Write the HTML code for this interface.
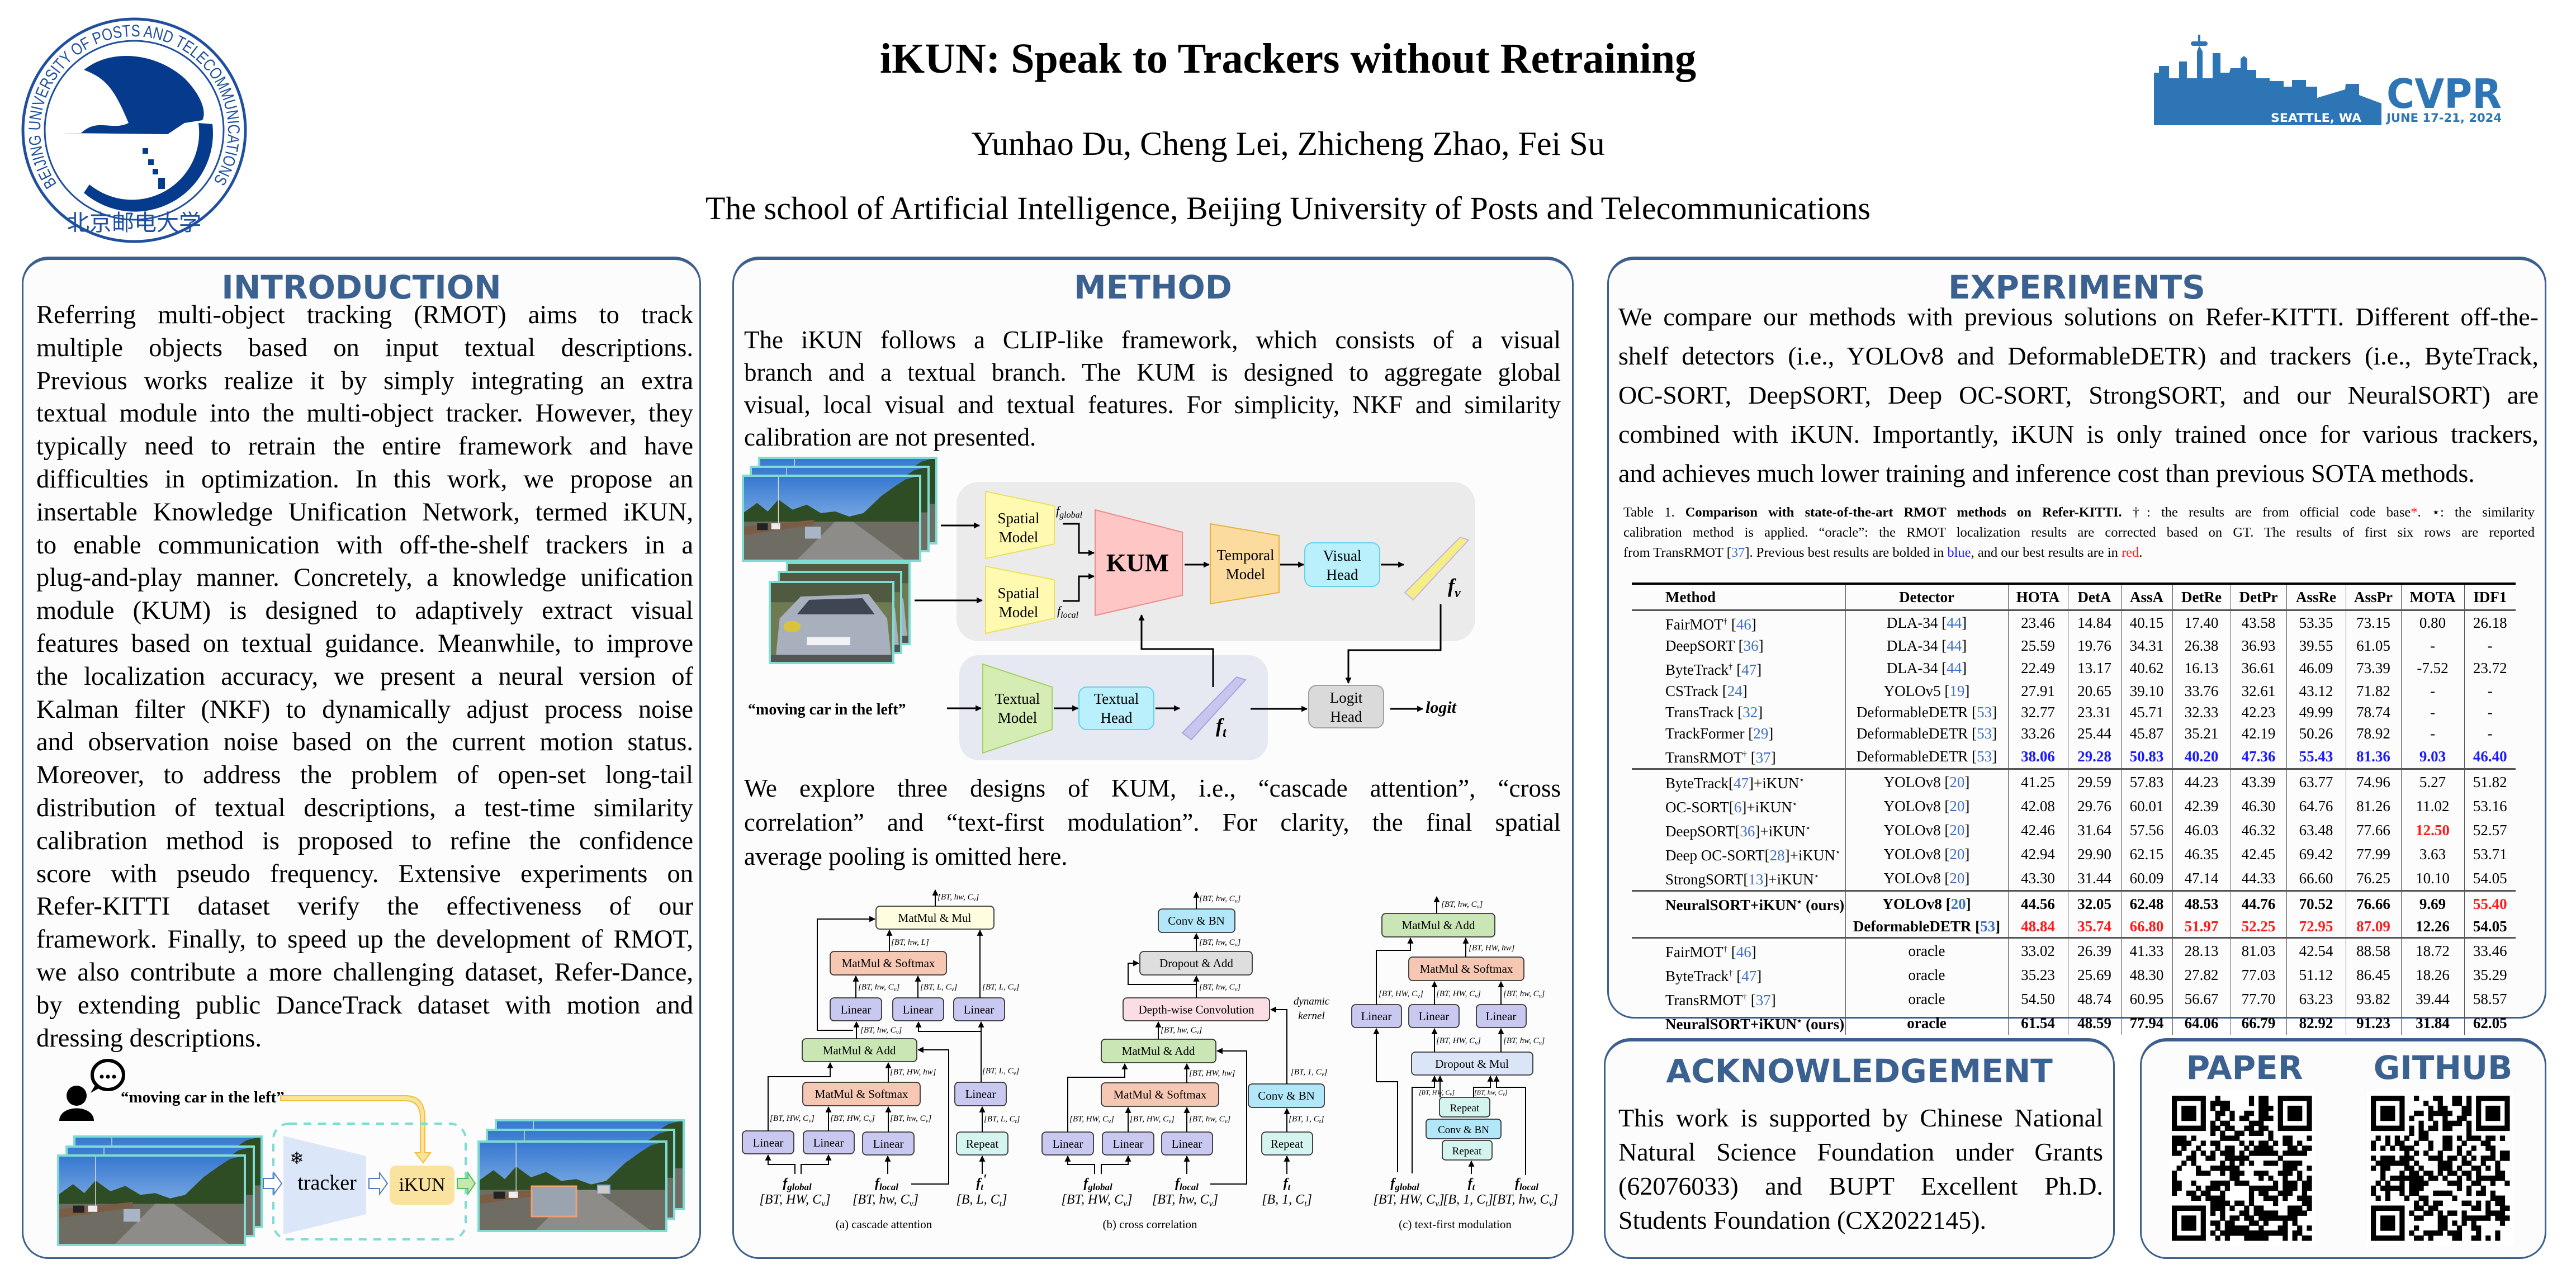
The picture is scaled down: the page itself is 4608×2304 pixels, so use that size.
<!DOCTYPE html>
<html><head><meta charset="utf-8">
<style>
*{margin:0;padding:0;box-sizing:border-box}
body{width:4608px;height:2304px;background:#fff;position:relative;overflow:hidden;font-family:"Liberation Serif",serif;color:#000}
.abs{position:absolute}
.panel{position:absolute;border:3px solid #3c5f8d;border-top-width:6px;border-radius:48px;background:#fcfcfc}
.hd{position:absolute;font-family:"DejaVu Sans","Liberation Sans",sans-serif;font-weight:bold;color:#3a6190;font-size:58px;text-align:center;line-height:64px}
.txt div{white-space:nowrap;text-align:justify;text-align-last:justify}
.txt div.l{text-align-last:left}
table.t{position:absolute;left:2919px;top:1042px;width:1581px;border-collapse:collapse;table-layout:fixed;font-size:27px;font-family:"Liberation Serif",serif}
table.t td{text-align:center;height:38.2px;padding:0;border-left:1.5px solid #555;white-space:nowrap;line-height:38px}
table.t td:first-child{border-left:none;text-align:left;padding-left:60px}
table.t tr.h td{height:47px;font-weight:bold;border-bottom:3px solid #555}
table.t tr.s td{border-top:3px solid #555}
table.t{border-top:4px solid #000}
.r{color:#3f6fc4}
.B{color:#1a1aff;font-weight:bold}
.R{color:#ff1a1a}
b .r{font-weight:bold}
</style></head><body>

<!-- Title -->
<div class="abs" style="left:0;top:62px;width:4608px;text-align:center;font-size:76px;font-weight:bold;line-height:86px">iKUN: Speak to Trackers without Retraining</div>
<div class="abs" style="left:0;top:222px;width:4608px;text-align:center;font-size:60px;line-height:70px">Yunhao Du, Cheng Lei, Zhicheng Zhao, Fei Su</div>
<div class="abs" style="left:0;top:338px;width:4608px;text-align:center;font-size:58px;line-height:70px">The school of Artificial Intelligence, Beijing University of Posts and Telecommunications</div>

<!-- Panels -->
<div class="panel" style="left:39px;top:459px;width:1215px;height:1793px"></div>
<div class="panel" style="left:1310px;top:459px;width:1505px;height:1793px"></div>
<div class="panel" style="left:2875px;top:459px;width:1680px;height:1363px"></div>
<div class="panel" style="left:2869px;top:1857px;width:914px;height:395px"></div>
<div class="panel" style="left:3828px;top:1857px;width:727px;height:395px"></div>

<div class="hd" style="left:39px;top:482px;width:1215px">INTRODUCTION</div>
<div class="hd" style="left:1310px;top:482px;width:1505px">METHOD</div>
<div class="hd" style="left:2875px;top:482px;width:1680px">EXPERIMENTS</div>
<div class="hd" style="left:2869px;top:1884px;width:914px">ACKNOWLEDGEMENT</div>
<div class="hd" style="left:3840px;top:1878px;width:350px">PAPER</div>
<div class="hd" style="left:4195px;top:1878px;width:350px">GITHUB</div>

<!-- Intro text -->
<div class="abs txt" style="left:65px;top:535px;width:1175px;font-size:46.5px;line-height:58.8px">
<div>Referring multi-object tracking (RMOT) aims to track</div>
<div>multiple objects based on input textual descriptions.</div>
<div>Previous works realize it by simply integrating an extra</div>
<div>textual module into the multi-object tracker. However, they</div>
<div>typically need to retrain the entire framework and have</div>
<div>difficulties in optimization. In this work, we propose an</div>
<div>insertable Knowledge Unification Network, termed iKUN,</div>
<div>to enable communication with off-the-shelf trackers in a</div>
<div>plug-and-play manner. Concretely, a knowledge unification</div>
<div>module (KUM) is designed to adaptively extract visual</div>
<div>features based on textual guidance. Meanwhile, to improve</div>
<div>the localization accuracy, we present a neural version of</div>
<div>Kalman filter (NKF) to dynamically adjust process noise</div>
<div>and observation noise based on the current motion status.</div>
<div>Moreover, to address the problem of open-set long-tail</div>
<div>distribution of textual descriptions, a test-time similarity</div>
<div>calibration method is proposed to refine the confidence</div>
<div>score with pseudo frequency. Extensive experiments on</div>
<div>Refer-KITTI dataset verify the effectiveness of our</div>
<div>framework. Finally, to speed up the development of RMOT,</div>
<div>we also contribute a more challenging dataset, Refer-Dance,</div>
<div>by extending public DanceTrack dataset with motion and</div>
<div class="l">dressing descriptions.</div>
</div>

<!-- Method text -->
<div class="abs txt" style="left:1331px;top:579px;width:1461px;font-size:45px;line-height:58px">
<div>The iKUN follows a CLIP-like framework, which consists of a visual</div>
<div>branch and a textual branch. The KUM is designed to aggregate global</div>
<div>visual, local visual and textual features. For simplicity, NKF and similarity</div>
<div class="l">calibration are not presented.</div>
</div>
<div class="abs txt" style="left:1331px;top:1380px;width:1461px;font-size:45px;line-height:61px">
<div>We explore three designs of KUM, i.e., “cascade attention”, “cross</div>
<div>correlation” and “text-first modulation”. For clarity, the final spatial</div>
<div class="l">average pooling is omitted here.</div>
</div>

<!-- Experiments text -->
<div class="abs txt" style="left:2895px;top:532px;width:1646px;font-size:46px;line-height:70px">
<div>We compare our methods with previous solutions on Refer-KITTI. Different off-the-</div>
<div>shelf detectors (i.e., YOLOv8 and DeformableDETR) and trackers (i.e., ByteTrack,</div>
<div>OC-SORT, DeepSORT, Deep OC-SORT, StrongSORT, and our NeuralSORT) are</div>
<div>combined with iKUN. Importantly, iKUN is only trained once for various trackers,</div>
<div class="l">and achieves much lower training and inference cost than previous SOTA methods.</div>
</div>
<div class="abs txt" style="left:2904px;top:899px;width:1630px;font-size:24.5px;line-height:36px">
<div>Table 1. <b>Comparison with state-of-the-art RMOT methods on Refer-KITTI.</b> †: the results are from official code base<span class="R">*</span>. ⋆: the similarity</div>
<div>calibration method is applied. “oracle”: the RMOT localization results are corrected based on GT. The results of first six rows are reported</div>
<div class="l">from TransRMOT [<span class="r">37</span>]. Previous best results are bolded in <span style="color:#1a1aff">blue</span>, and our best results are in <span class="R">red</span>.</div>
</div>

<table class="t">
<colgroup><col style="width:382px"><col style="width:291px"><col style="width:107px"><col style="width:95px"><col style="width:92px"><col style="width:104px"><col style="width:100px"><col style="width:106px"><col style="width:99px"><col style="width:113px"><col style="width:92px"></colgroup>
<tr class="h"><td>Method</td><td>Detector</td><td>HOTA</td><td>DetA</td><td>AssA</td><td>DetRe</td><td>DetPr</td><td>AssRe</td><td>AssPr</td><td>MOTA</td><td>IDF1</td></tr>
<tr><td>FairMOT<sup style="font-size:15px">†</sup> [<span class="r">46</span>]</td><td>DLA-34 [<span class="r">44</span>]</td><td>23.46</td><td>14.84</td><td>40.15</td><td>17.40</td><td>43.58</td><td>53.35</td><td>73.15</td><td>0.80</td><td>26.18</td></tr>
<tr><td>DeepSORT [<span class="r">36</span>]</td><td>DLA-34 [<span class="r">44</span>]</td><td>25.59</td><td>19.76</td><td>34.31</td><td>26.38</td><td>36.93</td><td>39.55</td><td>61.05</td><td>-</td><td>-</td></tr>
<tr><td>ByteTrack<sup style="font-size:15px">†</sup> [<span class="r">47</span>]</td><td>DLA-34 [<span class="r">44</span>]</td><td>22.49</td><td>13.17</td><td>40.62</td><td>16.13</td><td>36.61</td><td>46.09</td><td>73.39</td><td>-7.52</td><td>23.72</td></tr>
<tr><td>CSTrack [<span class="r">24</span>]</td><td>YOLOv5 [<span class="r">19</span>]</td><td>27.91</td><td>20.65</td><td>39.10</td><td>33.76</td><td>32.61</td><td>43.12</td><td>71.82</td><td>-</td><td>-</td></tr>
<tr><td>TransTrack [<span class="r">32</span>]</td><td>DeformableDETR [<span class="r">53</span>]</td><td>32.77</td><td>23.31</td><td>45.71</td><td>32.33</td><td>42.23</td><td>49.99</td><td>78.74</td><td>-</td><td>-</td></tr>
<tr><td>TrackFormer [<span class="r">29</span>]</td><td>DeformableDETR [<span class="r">53</span>]</td><td>33.26</td><td>25.44</td><td>45.87</td><td>35.21</td><td>42.19</td><td>50.26</td><td>78.92</td><td>-</td><td>-</td></tr>
<tr><td>TransRMOT<sup style="font-size:15px">†</sup> [<span class="r">37</span>]</td><td>DeformableDETR [<span class="r">53</span>]</td><td class="B">38.06</td><td class="B">29.28</td><td class="B">50.83</td><td class="B">40.20</td><td class="B">47.36</td><td class="B">55.43</td><td class="B">81.36</td><td class="B">9.03</td><td class="B">46.40</td></tr>
<tr class="s"><td>ByteTrack[<span class="r">47</span>]+iKUN<sup style="font-size:15px">⋆</sup></td><td>YOLOv8 [<span class="r">20</span>]</td><td>41.25</td><td>29.59</td><td>57.83</td><td>44.23</td><td>43.39</td><td>63.77</td><td>74.96</td><td>5.27</td><td>51.82</td></tr>
<tr><td>OC-SORT[<span class="r">6</span>]+iKUN<sup style="font-size:15px">⋆</sup></td><td>YOLOv8 [<span class="r">20</span>]</td><td>42.08</td><td>29.76</td><td>60.01</td><td>42.39</td><td>46.30</td><td>64.76</td><td>81.26</td><td>11.02</td><td>53.16</td></tr>
<tr><td>DeepSORT[<span class="r">36</span>]+iKUN<sup style="font-size:15px">⋆</sup></td><td>YOLOv8 [<span class="r">20</span>]</td><td>42.46</td><td>31.64</td><td>57.56</td><td>46.03</td><td>46.32</td><td>63.48</td><td>77.66</td><td class="R"><b>12.50</b></td><td>52.57</td></tr>
<tr><td>Deep OC-SORT[<span class="r">28</span>]+iKUN<sup style="font-size:15px">⋆</sup></td><td>YOLOv8 [<span class="r">20</span>]</td><td>42.94</td><td>29.90</td><td>62.15</td><td>46.35</td><td>42.45</td><td>69.42</td><td>77.99</td><td>3.63</td><td>53.71</td></tr>
<tr><td>StrongSORT[<span class="r">13</span>]+iKUN<sup style="font-size:15px">⋆</sup></td><td>YOLOv8 [<span class="r">20</span>]</td><td>43.30</td><td>31.44</td><td>60.09</td><td>47.14</td><td>44.33</td><td>66.60</td><td>76.25</td><td>10.10</td><td>54.05</td></tr>
<tr class="s" style="font-weight:bold"><td>NeuralSORT+iKUN<sup style="font-size:15px">⋆</sup> (ours)</td><td>YOLOv8 [<span class="r">20</span>]</td><td>44.56</td><td>32.05</td><td>62.48</td><td>48.53</td><td>44.76</td><td>70.52</td><td>76.66</td><td>9.69</td><td class="R">55.40</td></tr>
<tr style="font-weight:bold"><td></td><td>DeformableDETR [<span class="r">53</span>]</td><td class="R">48.84</td><td class="R">35.74</td><td class="R">66.80</td><td class="R">51.97</td><td class="R">52.25</td><td class="R">72.95</td><td class="R">87.09</td><td>12.26</td><td>54.05</td></tr>
<tr class="s"><td>FairMOT<sup style="font-size:15px">†</sup> [<span class="r">46</span>]</td><td>oracle</td><td>33.02</td><td>26.39</td><td>41.33</td><td>28.13</td><td>81.03</td><td>42.54</td><td>88.58</td><td>18.72</td><td>33.46</td></tr>
<tr><td>ByteTrack<sup style="font-size:15px">†</sup> [<span class="r">47</span>]</td><td>oracle</td><td>35.23</td><td>25.69</td><td>48.30</td><td>27.82</td><td>77.03</td><td>51.12</td><td>86.45</td><td>18.26</td><td>35.29</td></tr>
<tr><td>TransRMOT<sup style="font-size:15px">†</sup> [<span class="r">37</span>]</td><td>oracle</td><td>54.50</td><td>48.74</td><td>60.95</td><td>56.67</td><td>77.70</td><td>63.23</td><td>93.82</td><td>39.44</td><td>58.57</td></tr>
<tr style="font-weight:bold"><td>NeuralSORT+iKUN<sup style="font-size:15px">⋆</sup> (ours)</td><td>oracle</td><td>61.54</td><td>48.59</td><td>77.94</td><td>64.06</td><td>66.79</td><td>82.92</td><td>91.23</td><td>31.84</td><td>62.05</td></tr>
</table>

<!-- Ack text -->
<div class="abs txt" style="left:2895px;top:1969px;width:867px;font-size:46px;line-height:61px">
<div>This work is supported by Chinese National</div>
<div>Natural Science Foundation under Grants</div>
<div>(62076033) and BUPT Excellent Ph.D.</div>
<div class="l">Students Foundation (CX2022145).</div>
</div>

<svg class="abs" style="left:0;top:0" width="4608" height="2304" viewBox="0 0 4608 2304" xmlns="http://www.w3.org/2000/svg" font-family="Liberation Serif, serif">
<defs>
<marker id="ah" viewBox="0 0 10 10" refX="9" refY="5" markerWidth="11" markerHeight="11" markerUnits="userSpaceOnUse" orient="auto"><path d="M0,0 L10,5 L0,10 z" fill="#000"/></marker>
<linearGradient id="sky" x1="0" y1="0" x2="0" y2="1"><stop offset="0" stop-color="#3577d0"/><stop offset="1" stop-color="#b7d7f2"/></linearGradient>
<symbol id="photo" viewBox="0 0 100 50" preserveAspectRatio="none">
<rect width="100" height="50" fill="url(#sky)"/>
<path d="M0,22 L8,16 L14,21 L20,14 L28,20 L36,17 L44,22 L52,21 L60,24 L68,22 L78,12 L86,6 L92,2 L100,0 L100,30 L0,32 z" fill="#2f4d24"/>
<rect y="27" width="100" height="23" fill="#6e6c63"/>
<path d="M52,27 L62,27 L92,50 L30,50 z" fill="#8d8c89"/>
<path d="M0,30 L40,26 L40,29 L0,35 z" fill="#7b5c45"/>
<rect x="35" y="30" width="9" height="7" fill="#a9b4c4"/>
<rect x="8" y="28" width="6" height="4" fill="#222"/><rect x="16" y="28" width="5" height="3.5" fill="#eee"/>
<line x1="20" y1="0" x2="20" y2="30" stroke="#ddd" stroke-width="0.4"/>
</symbol>
<symbol id="carph" viewBox="0 0 100 100" preserveAspectRatio="none">
<rect width="100" height="100" fill="#6f7a52"/>
<rect y="0" width="100" height="25" fill="#4f5a40"/>
<path d="M5,90 L8,45 L25,18 L80,15 L95,45 L98,90 z" fill="#a7b0bc"/>
<path d="M22,40 L32,22 L75,20 L85,40 z" fill="#3e4654"/>
<rect x="30" y="68" width="35" height="10" fill="#f2f2f2"/>
<circle cx="18" cy="55" r="7" fill="#d9c33c"/>
<rect x="0" y="90" width="100" height="10" fill="#555"/>
</symbol>
</defs>

<!-- BUPT logo -->
<g>
<circle cx="240" cy="233" r="199" fill="#fff" stroke="#1f4f9f" stroke-width="5"/>
<circle cx="240" cy="233" r="160" fill="#fff" stroke="#1f4f9f" stroke-width="3"/>
<path id="ring" d="M 102,329 A 168,168 0 1 1 378,329" fill="none"/>
<text font-family="Liberation Sans Narrow, Liberation Sans, sans-serif" font-size="30" fill="#1f4f9f" textLength="725" lengthAdjust="spacingAndGlyphs"><textPath href="#ring" startOffset="0" textLength="725" lengthAdjust="spacingAndGlyphs">BEIJING UNIVERSITY OF POSTS AND TELECOMMUNICATIONS</textPath></text>
<path d="M110,238 L145,238 C175,210 200,235 230,220 C205,160 190,140 150,125 C200,85 280,95 330,140 C360,170 370,200 362,215 L330,220 L300,240 Z" fill="#063a8c"/>
<path d="M355,220 A 120,120 0 0 1 160,330 L150,345 A 140,140 0 0 0 380,222 Z" fill="#063a8c"/>
<rect x="255" y="265" width="10" height="10" fill="#063a8c"/><rect x="265" y="285" width="10" height="10" fill="#063a8c"/><rect x="273" y="302" width="10" height="10" fill="#063a8c"/><rect x="283" y="318" width="12" height="20" fill="#063a8c"/>
<text x="240" y="412" text-anchor="middle" font-family="Noto Sans CJK SC, sans-serif" font-size="40" fill="#1f4f9f">北京邮电大学</text>
</g>

<!-- CVPR logo -->
<g fill="#2e75b6">
<path d="M3853,224 L3853,130 L3862,130 L3862,118 L3880,118 L3880,140 L3898,140 L3898,110 L3912,110 L3912,140 L3930,140 L3930,92 L3934,82 L3940,92 L3940,140 L3958,140 L3958,95 L3972,95 L3972,130 L3988,130 L3990,122 L4008,122 L4008,105 L4014,100 L4020,105 L4020,125 L4036,125 L4036,140 L4050,140 L4050,140 L4060,140 L4060,145 L4085,145 L4085,155 L4100,155 L4100,143 L4125,143 L4125,155 L4145,155 L4145,175 L4195,160 L4196,150 L4220,150 L4220,170 L4260,185 L4260,224 Z"/>
<rect x="3919" y="74" width="30" height="8" rx="4"/>
<rect x="3932" y="62" width="4" height="14"/>
<text x="4372" y="193" text-anchor="middle" font-family="DejaVu Sans, sans-serif" font-weight="bold" font-size="72" textLength="206" lengthAdjust="spacingAndGlyphs">CVPR</text>
<text x="4372" y="218" text-anchor="middle" font-family="DejaVu Sans, sans-serif" font-weight="bold" font-size="21" textLength="206" lengthAdjust="spacingAndGlyphs">JUNE 17-21, 2024</text>
<text x="4143" y="218" text-anchor="middle" font-family="DejaVu Sans, sans-serif" font-weight="bold" font-size="21" fill="#fff" textLength="162" lengthAdjust="spacingAndGlyphs">SEATTLE, WA</text>
</g>

<!-- ===== Method main diagram ===== -->
<rect x="1711" y="862" width="928" height="285" rx="40" fill="#ebebeb"/>
<rect x="1716" y="1172" width="552" height="188" rx="35" fill="#e6e9f2"/>
<use href="#photo" x="1358" y="819" width="317" height="153"/>
<rect x="1358" y="819" width="317" height="153" fill="none" stroke="#7fdcd4" stroke-width="4"/>
<use href="#photo" x="1343" y="835" width="318" height="151"/>
<rect x="1343" y="835" width="318" height="151" fill="none" stroke="#7fdcd4" stroke-width="4"/>
<use href="#photo" x="1329" y="851" width="317" height="152"/>
<rect x="1329" y="851" width="317" height="152" fill="none" stroke="#7fdcd4" stroke-width="4"/>
<use href="#carph" x="1408" y="1007" width="219" height="145"/>
<rect x="1408" y="1007" width="219" height="145" fill="none" stroke="#7fdcd4" stroke-width="4"/>
<use href="#carph" x="1393" y="1023" width="219" height="145"/>
<rect x="1393" y="1023" width="219" height="145" fill="none" stroke="#7fdcd4" stroke-width="4"/>
<use href="#carph" x="1377" y="1041" width="221" height="145"/>
<rect x="1377" y="1041" width="221" height="145" fill="none" stroke="#7fdcd4" stroke-width="4"/>

<g stroke-width="2">
<polygon points="1763,879 1886,905 1886,973 1763,999" fill="#fffab0" stroke="#ece060"/>
<polygon points="1763,1013 1886,1037 1886,1106 1763,1133" fill="#fffab0" stroke="#ece060"/>
<polygon points="1959,912 2115,952 2115,1065 1959,1101" fill="#ffc6c6" stroke="#f08a8a"/>
<polygon points="2165,937 2288,958 2288,1060 2165,1080" fill="#fbdc9e" stroke="#e8b040"/>
<rect x="2334" y="971" width="134" height="78" rx="14" fill="#b9f0fb" stroke="#66d2ea"/>
<polygon points="1758,1188 1882,1229 1882,1305 1758,1347" fill="#d5ecb5" stroke="#a2d062"/>
<rect x="1930" y="1229" width="134" height="76" rx="14" fill="#b9f0fb" stroke="#66d2ea"/>
<rect x="2341" y="1226" width="134" height="76" rx="14" fill="#dadada" stroke="#a0a0a0"/>
<polygon points="2513,1060 2612,961 2627,966 2528,1073" fill="#f5ee86" stroke="#c8b4e6"/>
<polygon points="2115,1311 2212,1211 2228,1216 2131,1323" fill="#c8c6ef" stroke="#a9a4e2"/>
</g>
<g font-size="27" text-anchor="middle">
<text x="1822" y="936">Spatial</text><text x="1822" y="970">Model</text>
<text x="1822" y="1070">Spatial</text><text x="1822" y="1104">Model</text>
<text x="2035" y="1022" font-size="46" font-weight="bold">KUM</text>
<text x="2228" y="1002">Temporal</text><text x="2228" y="1036">Model</text>
<text x="2401" y="1003">Visual</text><text x="2401" y="1037">Head</text>
<text x="1820" y="1259">Textual</text><text x="1820" y="1293">Model</text>
<text x="1997" y="1259">Textual</text><text x="1997" y="1293">Head</text>
<text x="2408" y="1257">Logit</text><text x="2408" y="1291">Head</text>
</g>
<text x="1338" y="1278" font-size="28" font-weight="bold">“moving car in the left”</text>
<text x="2550" y="1275" font-size="30" font-weight="bold" font-style="italic">logit</text>
<text x="1889" y="921" font-size="22" font-style="italic">f<tspan font-size="16" dy="5">global</tspan></text>
<text x="1891" y="1100" font-size="22" font-style="italic">f<tspan font-size="16" dy="5">local</tspan></text>
<text x="2590" y="1060" font-size="36" font-weight="bold" font-style="italic">f<tspan font-size="24" dy="8">v</tspan></text>
<text x="2175" y="1310" font-size="36" font-weight="bold" font-style="italic">f<tspan font-size="24" dy="8">t</tspan></text>
<g stroke="#000" stroke-width="3" fill="none" marker-end="url(#ah)">
<path d="M1683,940 L1752,940"/>
<path d="M1636,1074 L1757,1074"/>
<path d="M1901,937 L1930,937 L1930,989 L1957,989"/>
<path d="M1901,1075 L1930,1075 L1930,1031 L1957,1031"/>
<path d="M2119,1010 L2163,1010"/>
<path d="M2290,1010 L2332,1010"/>
<path d="M2470,1010 L2511,1010"/>
<path d="M2577,1081 L2577,1163 L2412,1163 L2412,1222"/>
<path d="M2170,1229 L2170,1161 L2042,1161 L2042,1100"/>
<path d="M1694,1267 L1755,1267"/>
<path d="M1885,1267 L1928,1267"/>
<path d="M2067,1267 L2110,1267"/>
<path d="M2237,1268 L2338,1268"/>
<path d="M2487,1268 L2545,1268"/>
</g>

<!-- ===== KUM designs ===== -->
<g stroke="#333" stroke-width="1.8">
<rect x="1567" y="1621" width="211" height="41" rx="7" fill="#fefde0"/>
<rect x="1485" y="1702" width="208" height="42" rx="7" fill="#f6c7b3"/>
<rect x="1485" y="1785" width="92" height="41" rx="7" fill="#c9c8f0"/>
<rect x="1597" y="1785" width="91" height="41" rx="7" fill="#c9c8f0"/>
<rect x="1706" y="1785" width="91" height="41" rx="7" fill="#c9c8f0"/>
<rect x="1435" y="1858" width="205" height="41" rx="7" fill="#c9e6b4"/>
<rect x="1436" y="1936" width="210" height="42" rx="7" fill="#f6c7b3"/>
<rect x="1708" y="1936" width="92" height="42" rx="7" fill="#c9c8f0"/>
<rect x="1328" y="2023" width="92" height="41" rx="7" fill="#c9c8f0"/>
<rect x="1437" y="2023" width="91" height="41" rx="7" fill="#c9c8f0"/>
<rect x="1543" y="2025" width="92" height="41" rx="7" fill="#c9c8f0"/>
<rect x="1711" y="2025" width="92" height="41" rx="7" fill="#d4f4ef"/>
<rect x="2072" y="1626" width="137" height="42" rx="7" fill="#b1e7f8"/>
<rect x="2039" y="1702" width="201" height="42" rx="7" fill="#dedede"/>
<rect x="2009" y="1785" width="262" height="41" rx="7" fill="#fbdde4"/>
<rect x="1970" y="1859" width="205" height="42" rx="7" fill="#c9e6b4"/>
<rect x="1970" y="1937" width="210" height="42" rx="7" fill="#f6c7b3"/>
<rect x="1864" y="2025" width="92" height="41" rx="7" fill="#c9c8f0"/>
<rect x="1972" y="2025" width="92" height="41" rx="7" fill="#c9c8f0"/>
<rect x="2078" y="2025" width="91" height="41" rx="7" fill="#c9c8f0"/>
<rect x="2233" y="1939" width="136" height="42" rx="7" fill="#b1e7f8"/>
<rect x="2257" y="2025" width="91" height="41" rx="7" fill="#d4f4ef"/>
<rect x="2472" y="1634" width="202" height="42" rx="7" fill="#c9e6b4"/>
<rect x="2520" y="1712" width="206" height="42" rx="7" fill="#f6c7b3"/>
<rect x="2418" y="1797" width="89" height="41" rx="7" fill="#c9c8f0"/>
<rect x="2520" y="1797" width="90" height="41" rx="7" fill="#c9c8f0"/>
<rect x="2641" y="1797" width="89" height="41" rx="7" fill="#c9c8f0"/>
<rect x="2525" y="1882" width="217" height="41" rx="7" fill="#dbe5f8"/>
<rect x="2575" y="1963" width="90" height="35" rx="6" fill="#d4f4ef"/>
<rect x="2551" y="2002" width="134" height="35" rx="6" fill="#b1e7f8"/>
<rect x="2580" y="2040" width="89" height="35" rx="6" fill="#d4f4ef"/>
</g>
<g font-size="21" text-anchor="middle">
<text x="1672" y="1649">MatMul &amp; Mul</text>
<text x="1589" y="1730">MatMul &amp; Softmax</text>
<text x="1531" y="1813">Linear</text><text x="1642" y="1813">Linear</text><text x="1751" y="1813">Linear</text>
<text x="1537" y="1886">MatMul &amp; Add</text>
<text x="1541" y="1964">MatMul &amp; Softmax</text>
<text x="1754" y="1964">Linear</text>
<text x="1374" y="2051">Linear</text><text x="1482" y="2051">Linear</text><text x="1589" y="2053">Linear</text>
<text x="1757" y="2053">Repeat</text>
<text x="2140" y="1654">Conv &amp; BN</text>
<text x="2140" y="1730">Dropout &amp; Add</text>
<text x="2140" y="1813">Depth-wise Convolution</text>
<text x="2072" y="1887">MatMul &amp; Add</text>
<text x="2075" y="1965">MatMul &amp; Softmax</text>
<text x="1910" y="2053">Linear</text><text x="2018" y="2053">Linear</text><text x="2123" y="2053">Linear</text>
<text x="2301" y="1967">Conv &amp; BN</text>
<text x="2302" y="2053">Repeat</text>
<text x="2573" y="1662">MatMul &amp; Add</text>
<text x="2623" y="1740">MatMul &amp; Softmax</text>
<text x="2462" y="1825">Linear</text><text x="2565" y="1825">Linear</text><text x="2685" y="1825">Linear</text>
<text x="2633" y="1910">Dropout &amp; Mul</text>
<text x="2620" y="1988" font-size="19">Repeat</text>
<text x="2618" y="2027" font-size="19">Conv &amp; BN</text>
<text x="2624" y="2065" font-size="19">Repeat</text>
<text x="1581" y="2197" font-size="21">(a) cascade attention</text>
<text x="2057" y="2197" font-size="21">(b) cross correlation</text>
<text x="2603" y="2197" font-size="21">(c) text-first modulation</text>
</g>
<g font-size="15" font-style="italic">
<text x="1677" y="1609">[BT, hw, C<tspan font-size="11" dy="3">v</tspan><tspan dy="-3">]</tspan></text>
<text x="1594" y="1690">[BT, hw, L]</text>
<text x="1535" y="1770">[BT, hw, C<tspan font-size="11" dy="3">v</tspan><tspan dy="-3">]</tspan></text>
<text x="1646" y="1770">[BT, L, C<tspan font-size="11" dy="3">v</tspan><tspan dy="-3">]</tspan></text>
<text x="1757" y="1770">[BT, L, C<tspan font-size="11" dy="3">v</tspan><tspan dy="-3">]</tspan></text>
<text x="1539" y="1847">[BT, hw, C<tspan font-size="11" dy="3">v</tspan><tspan dy="-3">]</tspan></text>
<text x="1592" y="1922">[BT, HW, hw]</text>
<text x="1757" y="1920">[BT, L, C<tspan font-size="11" dy="3">v</tspan><tspan dy="-3">]</tspan></text>
<text x="1377" y="2005">[BT, HW, C<tspan font-size="11" dy="3">v</tspan><tspan dy="-3">]</tspan></text>
<text x="1485" y="2005">[BT, HW, C<tspan font-size="11" dy="3">v</tspan><tspan dy="-3">]</tspan></text>
<text x="1592" y="2005">[BT, hw, C<tspan font-size="11" dy="3">v</tspan><tspan dy="-3">]</tspan></text>
<text x="1760" y="2006">[BT, L, C<tspan font-size="11" dy="3">t</tspan><tspan dy="-3">]</tspan></text>
<text x="2145" y="1612">[BT, hw, C<tspan font-size="11" dy="3">v</tspan><tspan dy="-3">]</tspan></text>
<text x="2145" y="1690">[BT, hw, C<tspan font-size="11" dy="3">v</tspan><tspan dy="-3">]</tspan></text>
<text x="2145" y="1770">[BT, hw, C<tspan font-size="11" dy="3">v</tspan><tspan dy="-3">]</tspan></text>
<text x="2076" y="1847">[BT, hw, C<tspan font-size="11" dy="3">v</tspan><tspan dy="-3">]</tspan></text>
<text x="2127" y="1924">[BT, HW, hw]</text>
<text x="2309" y="1922">[BT, 1, C<tspan font-size="11" dy="3">v</tspan><tspan dy="-3">]</tspan></text>
<text x="1913" y="2006">[BT, HW, C<tspan font-size="11" dy="3">v</tspan><tspan dy="-3">]</tspan></text>
<text x="2021" y="2006">[BT, HW, C<tspan font-size="11" dy="3">v</tspan><tspan dy="-3">]</tspan></text>
<text x="2127" y="2006">[BT, hw, C<tspan font-size="11" dy="3">v</tspan><tspan dy="-3">]</tspan></text>
<text x="2305" y="2006">[BT, 1, C<tspan font-size="11" dy="3">t</tspan><tspan dy="-3">]</tspan></text>
<text x="2346" y="1797" font-size="19" text-anchor="middle">dynamic</text>
<text x="2346" y="1823" font-size="19" text-anchor="middle">kernel</text>
<text x="2578" y="1622">[BT, hw, C<tspan font-size="11" dy="3">v</tspan><tspan dy="-3">]</tspan></text>
<text x="2627" y="1700">[BT, HW, hw]</text>
<text x="2466" y="1782">[BT, HW, C<tspan font-size="11" dy="3">v</tspan><tspan dy="-3">]</tspan></text>
<text x="2569" y="1782">[BT, HW, C<tspan font-size="11" dy="3">v</tspan><tspan dy="-3">]</tspan></text>
<text x="2689" y="1782">[BT, hw, C<tspan font-size="11" dy="3">v</tspan><tspan dy="-3">]</tspan></text>
<text x="2569" y="1866">[BT, HW, C<tspan font-size="11" dy="3">v</tspan><tspan dy="-3">]</tspan></text>
<text x="2689" y="1866">[BT, hw, C<tspan font-size="11" dy="3">v</tspan><tspan dy="-3">]</tspan></text>
<text x="2538" y="1958" font-size="12">[BT, HW, C<tspan font-size="9" dy="2">v</tspan><tspan dy="-2">]</tspan></text>
<text x="2637" y="1958" font-size="12">[BT, hw, C<tspan font-size="9" dy="2">v</tspan><tspan dy="-2">]</tspan></text>
</g>
<g font-size="24" text-anchor="middle">
<text x="1426" y="2124" font-weight="bold" font-style="italic">f<tspan font-size="17" dy="5">global</tspan></text>
<text x="1422" y="2153" font-style="italic">[BT, HW, C<tspan font-size="16" dy="5">v</tspan><tspan dy="-5">]</tspan></text>
<text x="1586" y="2124" font-weight="bold" font-style="italic">f<tspan font-size="17" dy="5">local</tspan></text>
<text x="1584" y="2153" font-style="italic">[BT, hw, C<tspan font-size="16" dy="5">v</tspan><tspan dy="-5">]</tspan></text>
<text x="1756" y="2124" font-weight="bold" font-style="italic">f<tspan font-size="17" dy="5">t</tspan><tspan dy="-12">′</tspan></text>
<text x="1756" y="2153" font-style="italic">[B, L, C<tspan font-size="16" dy="5">t</tspan><tspan dy="-5">]</tspan></text>
<text x="1964" y="2124" font-weight="bold" font-style="italic">f<tspan font-size="17" dy="5">global</tspan></text>
<text x="1962" y="2153" font-style="italic">[BT, HW, C<tspan font-size="16" dy="5">v</tspan><tspan dy="-5">]</tspan></text>
<text x="2123" y="2124" font-weight="bold" font-style="italic">f<tspan font-size="17" dy="5">local</tspan></text>
<text x="2120" y="2153" font-style="italic">[BT, hw, C<tspan font-size="16" dy="5">v</tspan><tspan dy="-5">]</tspan></text>
<text x="2302" y="2124" font-weight="bold" font-style="italic">f<tspan font-size="17" dy="5">t</tspan></text>
<text x="2302" y="2153" font-style="italic">[B, 1, C<tspan font-size="16" dy="5">t</tspan><tspan dy="-5">]</tspan></text>
<text x="2513" y="2124" font-weight="bold" font-style="italic">f<tspan font-size="17" dy="5">global</tspan></text>
<text x="2520" y="2153" font-style="italic">[BT, HW, C<tspan font-size="16" dy="5">v</tspan><tspan dy="-5">]</tspan></text>
<text x="2632" y="2124" font-weight="bold" font-style="italic">f<tspan font-size="17" dy="5">t</tspan></text>
<text x="2626" y="2153" font-style="italic">[B, 1, C<tspan font-size="16" dy="5">t</tspan><tspan dy="-5">]</tspan></text>
<text x="2731" y="2124" font-weight="bold" font-style="italic">f<tspan font-size="17" dy="5">local</tspan></text>
<text x="2728" y="2153" font-style="italic">[BT, hw, C<tspan font-size="16" dy="5">v</tspan><tspan dy="-5">]</tspan></text>
</g>
<g stroke="#000" stroke-width="2" fill="none" marker-end="url(#ah)">
<path d="M1422,2100 L1422,2083 L1374,2083 L1374,2066"/>
<path d="M1433,2100 L1433,2083 L1482,2083 L1482,2066"/>
<path d="M1588,2100 L1588,2068"/>
<path d="M1630,2118 L1697,2118 L1697,1878 L1642,1878"/>
<path d="M1757,2100 L1757,2068"/>
<path d="M1374,2023 L1374,1926 L1485,1926 L1485,1901"/>
<path d="M1482,2023 L1482,1980"/>
<path d="M1589,2025 L1589,1980"/>
<path d="M1589,1936 L1589,1901"/>
<path d="M1757,2025 L1757,1980"/>
<path d="M1755,1936 L1755,1845 L1643,1845 L1643,1828"/>
<path d="M1755,1845 L1755,1828"/>
<path d="M1532,1858 L1532,1828"/>
<path d="M1526,1843 L1462,1843 L1462,1644 L1565,1644"/>
<path d="M1531,1785 L1531,1746"/>
<path d="M1642,1785 L1642,1746"/>
<path d="M1753,1785 L1753,1664"/>
<path d="M1591,1702 L1591,1664"/>
<path d="M1673,1621 L1673,1592"/>
<path d="M1958,2100 L1958,2083 L1910,2083 L1910,2068"/>
<path d="M1970,2100 L1970,2083 L2018,2083 L2018,2068"/>
<path d="M2123,2100 L2123,2068"/>
<path d="M2165,2118 L2230,2118 L2230,1880 L2177,1880"/>
<path d="M2302,2100 L2302,2068"/>
<path d="M1910,2025 L1910,1927 L2012,1927 L2012,1903"/>
<path d="M2018,2025 L2018,1981"/>
<path d="M2123,2025 L2123,1981"/>
<path d="M2123,1937 L2123,1903"/>
<path d="M2302,2025 L2302,1983"/>
<path d="M2302,1939 L2302,1806 L2273,1806"/>
<path d="M2072,1859 L2072,1828"/>
<path d="M2140,1785 L2140,1746"/>
<path d="M2140,1761 L2018,1761 L2018,1723 L2037,1723"/>
<path d="M2140,1702 L2140,1670"/>
<path d="M2140,1626 L2140,1596"/>
<path d="M2500,2097 L2500,1935 L2462,1935 L2462,1840"/>
<path d="M2526,2099 L2526,1945 L2566,1945 L2566,1925"/>
<path d="M2576,1963 L2576,1925"/>
<path d="M2636,1963 L2636,1945 L2666,1945 L2666,1925"/>
<path d="M2729,2102 L2729,1945 L2677,1945 L2677,1925"/>
<path d="M2632,2100 L2632,2077"/>
<path d="M2566,1882 L2566,1840"/>
<path d="M2685,1882 L2685,1840"/>
<path d="M2462,1797 L2462,1700 L2523,1700 L2523,1678"/>
<path d="M2566,1797 L2566,1756"/>
<path d="M2685,1797 L2685,1756"/>
<path d="M2622,1712 L2622,1678"/>
<path d="M2570,1634 L2570,1604"/>
</g>

<!-- ===== Intro illustration ===== -->
<g>
<circle cx="137" cy="1960" r="18" fill="#000"/>
<path d="M106,2005 C106,1975 168,1975 168,2005 Z" fill="#000"/>
<ellipse cx="193" cy="1923" rx="28" ry="26" fill="#fff" stroke="#000" stroke-width="6"/>
<path d="M172,1938 L162,1955 L182,1944 Z" fill="#000"/>
<circle cx="182" cy="1926" r="3.5"/><circle cx="193" cy="1926" r="3.5"/><circle cx="204" cy="1926" r="3.5"/>
<text x="216" y="1972" font-size="29" font-weight="bold">“moving car in the left”</text>
<path d="M502,1960 L725,1960 Q760,1960 760,2000 L760,2062 L770,2062 L757,2080 L743,2062 L752,2062 L752,2000 Q752,1969 725,1969 L502,1969 Z" fill="#fae39e" stroke="#f1bf3c" stroke-width="2"/>
<use href="#photo" x="133" y="2033" width="335" height="162"/><rect x="133" y="2033" width="335" height="162" fill="none" stroke="#7fdcd4" stroke-width="4"/>
<use href="#photo" x="119" y="2051" width="335" height="160"/><rect x="119" y="2051" width="335" height="160" fill="none" stroke="#7fdcd4" stroke-width="4"/>
<use href="#photo" x="104" y="2067" width="334" height="160"/><rect x="104" y="2067" width="334" height="160" fill="none" stroke="#7fdcd4" stroke-width="4"/>
<rect x="489" y="2010" width="344" height="207" rx="28" fill="none" stroke="#7fdcd4" stroke-width="4" stroke-dasharray="14 12"/>
<polygon points="507,2032 655,2068 655,2172 507,2208" fill="#dbe7f8"/>
<text x="585" y="2128" font-size="38" text-anchor="middle">tracker</text>
<text x="531" y="2082" font-size="30" text-anchor="middle" font-family="DejaVu Sans, sans-serif">❄</text>
<path d="M471,2108 L490,2108 L490,2098 L504,2117 L490,2136 L490,2126 L471,2126 Z" fill="#fff" stroke="#5a78c0" stroke-width="2"/>
<path d="M660,2108 L679,2108 L679,2098 L693,2117 L679,2136 L679,2126 L660,2126 Z" fill="#fff" stroke="#5a78c0" stroke-width="2"/>
<rect x="697" y="2085" width="116" height="70" rx="12" fill="#fae39e"/>
<text x="755" y="2130" font-size="34" text-anchor="middle">iKUN</text>
<path d="M818,2108 L837,2108 L837,2098 L850,2117 L837,2136 L837,2126 L818,2126 Z" fill="#c6e8b0" stroke="#50c050" stroke-width="2"/>
<use href="#photo" x="887" y="2004" width="336" height="159"/><rect x="887" y="2004" width="336" height="159" fill="none" stroke="#7fdcd4" stroke-width="4"/>
<use href="#photo" x="871" y="2021" width="335" height="159"/><rect x="871" y="2021" width="335" height="159" fill="none" stroke="#7fdcd4" stroke-width="4"/>
<use href="#photo" x="856" y="2042" width="336" height="160"/><rect x="856" y="2042" width="336" height="160" fill="none" stroke="#7fdcd4" stroke-width="4"/>
<rect x="951" y="2122" width="80" height="54" fill="#9aa3b0" stroke="#f0a070" stroke-width="3"/>
<rect x="1069" y="2120" width="22" height="15" fill="#ccc" stroke="#88aadd" stroke-width="2"/>
</g>

<rect x="3880" y="1952" width="262" height="277" fill="#fff"/>
<rect x="4234" y="1952" width="262" height="277" fill="#fff"/>
<g id="qr1"></g><g id="qr2"></g>
</svg>

<script>
(function(){
 function qr(id,x0,y0,w,h,seed){
  var g=document.getElementById(id),N=29,cw=w/N,ch=h/N,s=seed,out='';
  function rnd(){s=(s*1103515245+12345)%2147483648;return s/2147483648;}
  function fin(r,c){return (r<8&&c<8)||(r<8&&c>=N-8)||(r>=N-8&&c<8);}
  for(var r=0;r<N;r++)for(var c=0;c<N;c++){
   var on=false;
   if(fin(r,c)){var rr=r<8?r:r-(N-7),cc=c<8?c:c-(N-7);if(r>=N-8)rr=r-(N-7);if(c>=N-8)cc=c-(N-7);
     if(rr<0||rr>6||cc<0||cc>6)on=false;else on=(rr==0||rr==6||cc==0||cc==6||(rr>=2&&rr<=4&&cc>=2&&cc<=4));}
   else on=rnd()<0.5;
   if(on)out+='<rect x="'+(x0+c*cw).toFixed(1)+'" y="'+(y0+r*ch).toFixed(1)+'" width="'+(cw+0.6).toFixed(1)+'" height="'+(ch+0.6).toFixed(1)+'"/>';
  }
  g.innerHTML=out;g.setAttribute('fill','#000');
 }
 qr('qr1',3885,1960,250,259,7);
 qr('qr2',4241,1960,248,259,91);
})();
</script>
</body></html>
